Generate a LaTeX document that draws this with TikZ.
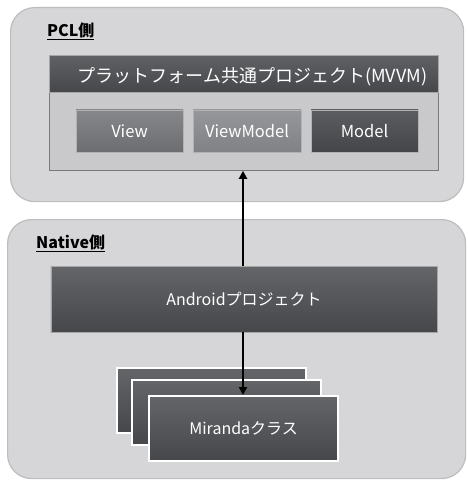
\documentclass[tikz,border=0pt]{standalone}
\usepackage{fontspec}
\setmainfont{Noto Sans CJK JP}
\usetikzlibrary{arrows.meta}
\definecolor{panelfill}{HTML}{D6D6D8}
\definecolor{panelline}{HTML}{BDBDBF}
\definecolor{innerfill}{HTML}{C9C9CB}
\definecolor{frameline}{HTML}{7A7A7C}
\definecolor{darktop}{HTML}{646569}
\definecolor{darkbot}{HTML}{46474A}
\definecolor{headtop}{HTML}{606164}
\definecolor{viewtop}{RGB}{134,135,139}
\definecolor{viewbot}{RGB}{108,109,112}
\definecolor{vmtop}{RGB}{150,151,155}
\definecolor{vmbot}{RGB}{128,129,132}
\definecolor{modeltop}{RGB}{92,93,97}
\definecolor{modelbot}{RGB}{68,69,72}
\tikzset{
  panel/.style={draw=panelline, fill=panelfill, line width=1.2bp, rounded corners=24bp, anchor=north west},
  panellabel/.style={anchor=west, font=\bfseries\fontsize{16bp}{18bp}\selectfont, text=black, inner sep=0pt},
  boxtext/.style={text=white, font=\fontsize{16bp}{18bp}\selectfont},
  darkbox/.style={draw=gray!70, line width=0.6bp, top color=darktop, bottom color=darkbot, boxtext, inner sep=0pt},
  stackbox/.style={draw=white, line width=2.2bp, top color=darktop, bottom color=darkbot, boxtext, inner sep=0pt, minimum width=189bp, minimum height=65bp, anchor=north west},
  mvvm/.style={draw=gray!60, line width=0.6bp, boxtext, font=\fontsize{16.5bp}{18bp}\selectfont, inner sep=0pt, minimum width=107bp, minimum height=42bp},
  arr/.style={draw=black, line width=2bp, -{Triangle[width=8bp,length=8bp]}},
}
\begin{document}
\begin{tikzpicture}[x=1bp,y=-1bp]
\useasboundingbox (0,0) rectangle (468,481);
% panels
\node[panel, minimum width=453bp, minimum height=194bp] (pcl) at (10,7) {};
\node[panel, minimum width=458bp, minimum height=259bp] (native) at (7,219) {};
\node[panellabel] (pcllabel) at (47,31) {\underline{PCL側}};
\node[panellabel] (nativelabel) at (36,243) {\underline{Native側}};
% platform project
\node[draw=frameline, line width=0.8bp, fill=innerfill, anchor=north west, minimum width=389bp, minimum height=115bp] (plat) at (49,55) {};
\node[darkbox, anchor=north west, minimum width=389bp, minimum height=37bp, top color=headtop, bottom color=darkbot] (plathead) at (49,55) {};
\node[boxtext, font=\fontsize{18bp}{20bp}\selectfont] (plattext) at (252.5,77) {プラットフォーム共通プロジェクト(MVVM)};
\node[mvvm, top color=viewtop, bottom color=viewbot] (view) at (129.5,131) {View};
\node[mvvm, minimum width=108bp, top color=vmtop, bottom color=vmbot] (viewmodel) at (247,131) {ViewModel};
\node[mvvm, top color=modeltop, bottom color=modelbot] (model) at (364.5,131) {Model};
% android
\node[darkbox, minimum width=386bp, minimum height=66bp] (android) at (244,299) {Androidプロジェクト};
% miranda stack
\node[stackbox] (mir1) at (116,367) {};
\node[stackbox] (mir2) at (131,379) {};
\node[stackbox] (mir3) at (148,395) {Mirandaクラス};
% arrows
\coordinate (ax) at (243,0);
\draw[arr] (ax |- android.north) -- (ax |- plat.south);
\draw[arr] (ax |- android.south) -- (ax |- mir3.north);
\end{tikzpicture}
\end{document}
